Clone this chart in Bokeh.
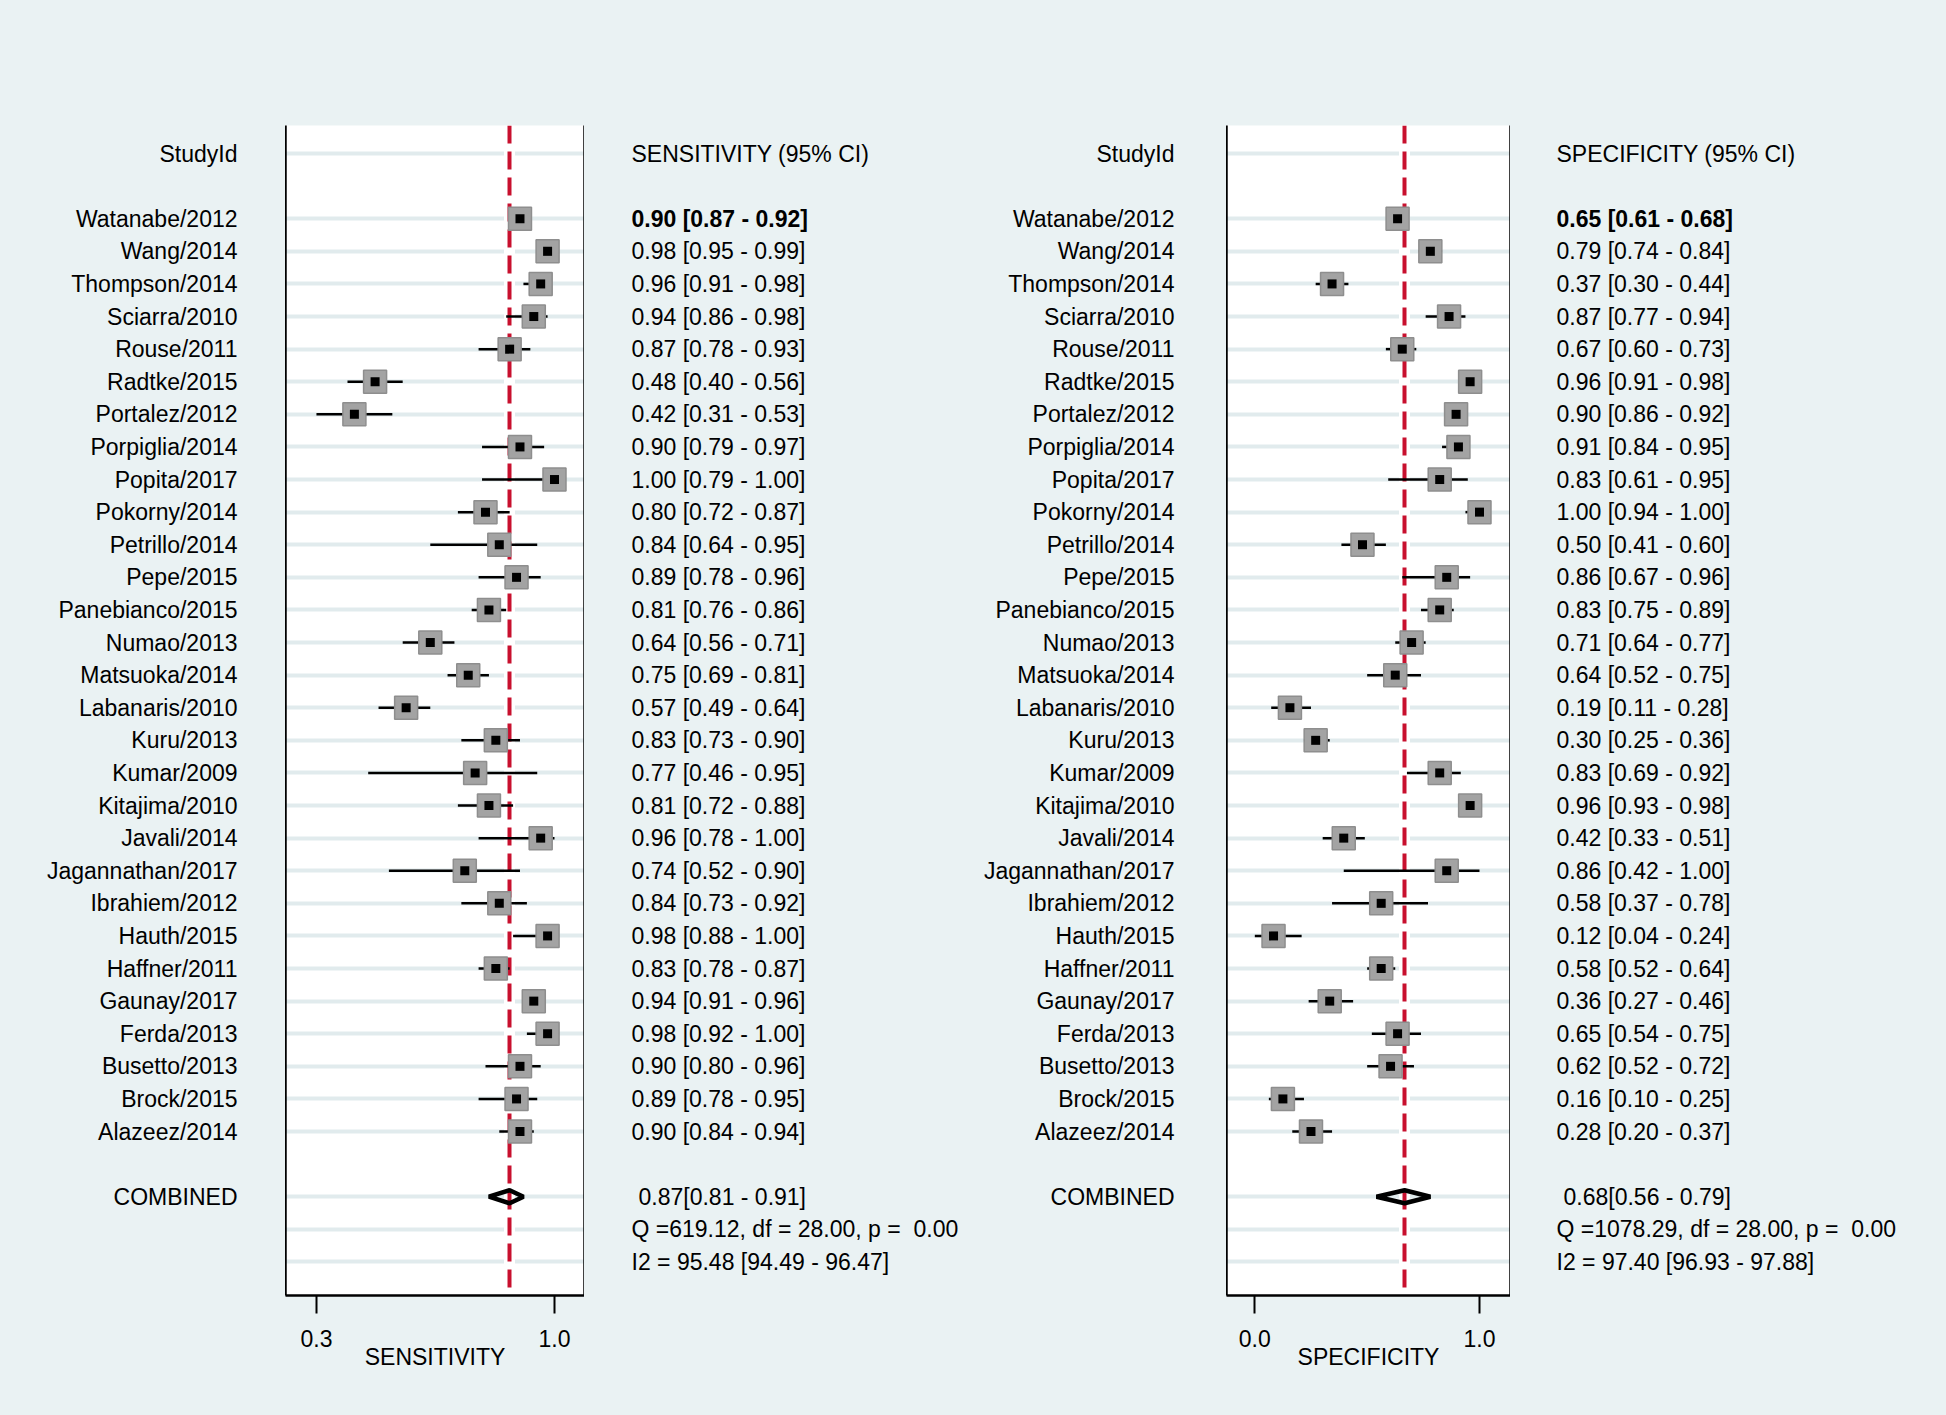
import numpy as np
from jinja2 import Template
from bokeh.plotting import figure
from bokeh.models import (Range1d, FixedTicker, PrintfTickFormatter, LinearAxis,
                          Grid, ColumnDataSource)
from bokeh.layouts import row
from bokeh.core.properties import value
from bokeh.embed import file_html
from bokeh.resources import INLINE

# ---------------- data ----------------
studies = ["Watanabe/2012", "Wang/2014", "Thompson/2014", "Sciarra/2010", "Rouse/2011",
           "Radtke/2015", "Portalez/2012", "Porpiglia/2014", "Popita/2017", "Pokorny/2014",
           "Petrillo/2014", "Pepe/2015", "Panebianco/2015", "Numao/2013", "Matsuoka/2014",
           "Labanaris/2010", "Kuru/2013", "Kumar/2009", "Kitajima/2010", "Javali/2014",
           "Jagannathan/2017", "Ibrahiem/2012", "Hauth/2015", "Haffner/2011", "Gaunay/2017",
           "Ferda/2013", "Busetto/2013", "Brock/2015", "Alazeez/2014"]

sens_est = [0.90, 0.98, 0.96, 0.94, 0.87, 0.48, 0.42, 0.90, 1.00, 0.80, 0.84, 0.89, 0.81, 0.64, 0.75,
            0.57, 0.83, 0.77, 0.81, 0.96, 0.74, 0.84, 0.98, 0.83, 0.94, 0.98, 0.90, 0.89, 0.90]
sens_lo = [0.87, 0.95, 0.91, 0.86, 0.78, 0.40, 0.31, 0.79, 0.79, 0.72, 0.64, 0.78, 0.76, 0.56, 0.69,
           0.49, 0.73, 0.46, 0.72, 0.78, 0.52, 0.73, 0.88, 0.78, 0.91, 0.92, 0.80, 0.78, 0.84]
sens_hi = [0.92, 0.99, 0.98, 0.98, 0.93, 0.56, 0.53, 0.97, 1.00, 0.87, 0.95, 0.96, 0.86, 0.71, 0.81,
           0.64, 0.90, 0.95, 0.88, 1.00, 0.90, 0.92, 1.00, 0.87, 0.96, 1.00, 0.96, 0.95, 0.94]

spec_est = [0.65, 0.79, 0.37, 0.87, 0.67, 0.96, 0.90, 0.91, 0.83, 1.00, 0.50, 0.86, 0.83, 0.71, 0.64,
            0.19, 0.30, 0.83, 0.96, 0.42, 0.86, 0.58, 0.12, 0.58, 0.36, 0.65, 0.62, 0.16, 0.28]
spec_lo = [0.61, 0.74, 0.30, 0.77, 0.60, 0.91, 0.86, 0.84, 0.61, 0.94, 0.41, 0.67, 0.75, 0.64, 0.52,
           0.11, 0.25, 0.69, 0.93, 0.33, 0.42, 0.37, 0.04, 0.52, 0.27, 0.54, 0.52, 0.10, 0.20]
spec_hi = [0.68, 0.84, 0.44, 0.94, 0.73, 0.98, 0.92, 0.95, 0.95, 1.00, 0.60, 0.96, 0.89, 0.77, 0.75,
           0.28, 0.36, 0.92, 0.98, 0.51, 1.00, 0.78, 0.24, 0.64, 0.46, 0.75, 0.72, 0.25, 0.37]

sens_pooled = [0.87, 0.81, 0.91]
spec_pooled = [0.68, 0.56, 0.79]
sens_stats = ["Q =619.12, df = 28.00, p = \u00a00.00", "I2 = 95.48 [94.49 - 96.47]"]
spec_stats = ["Q =1078.29, df = 28.00, p = \u00a00.00", "I2 = 97.40 [96.93 - 97.88]"]
sens_ticks = [0.31, 1.00]
spec_ticks = [0.04, 1.00]
header_left = "StudyId"
combined_label = "COMBINED"
sens_header = "SENSITIVITY (95% CI)"
spec_header = "SPECIFICITY (95% CI)"
sens_title = "SENSITIVITY"
spec_title = "SPECIFICITY"

# ---------------- layout constants ----------------
BG = "#EAF2F3"
GRID = "#E1EBED"
RED = "#C8102E"
FONT = "Liberation Sans"
FS = "23px"

n = len(studies)
study_rows = list(range(2, 2 + n))
comb_row = 2 + n + 1
stat_rows = [comb_row + 1, comb_row + 2]
grid_rows = [0] + study_rows + [comb_row] + stat_rows

FH = 1170
MT = 125
MB = 119
yr = Range1d(35.03, -0.86)


def base_fig(width, bg, xr):
    p = figure(frame_width=width, frame_height=FH, x_range=xr, y_range=yr,
               toolbar_location=None, output_backend="svg",
               min_border_left=0, min_border_right=0, min_border_top=MT, min_border_bottom=MB,
               background_fill_color=bg, border_fill_color=BG, outline_line_color=None,
               x_axis_location=None, y_axis_location=None)
    p.grid.visible = False
    return p


def add_text(p, x, y, texts, align="left", bold=False):
    src = ColumnDataSource(dict(y=list(y), t=list(texts)))
    p.text(x=x, y="y", text="t", source=src, text_align=align, text_baseline="middle",
           text_font=value(FONT), text_font_size=FS, text_color="black",
           text_font_style="bold" if bold else "normal")


def ci_strings(est, lo, hi):
    return ["%.2f [%.2f - %.2f]" % (e, l, h) for e, l, h in zip(est, lo, hi)]


def plot_fig(width, xr, ticks, pooled, est, lo, hi, title):
    p = figure(frame_width=width, frame_height=FH, x_range=Range1d(*xr), y_range=yr,
               toolbar_location=None, output_backend="svg",
               min_border_left=0, min_border_right=0, min_border_top=MT, min_border_bottom=MB,
               background_fill_color="white", border_fill_color=BG, outline_line_color=None,
               x_axis_location="below", y_axis_location=None)
    p.grid.visible = False
    p.add_layout(Grid(dimension=1, ticker=FixedTicker(ticks=grid_rows),
                      grid_line_color=GRID, grid_line_width=4))
    # pooled estimate reference line
    p.vspan(x=[pooled[0]], line_color="white", line_width=11)
    p.vspan(x=[pooled[0]], line_color=RED, line_width=4, line_dash="18 8")
    src = ColumnDataSource(dict(row=study_rows, est=est, lo=lo, hi=hi))
    p.segment(x0="lo", y0="row", x1="hi", y1="row", source=src, line_color="black", line_width=2.5)
    p.scatter("est", "row", source=src, marker="square", size=23,
              fill_color="#A3A3A3", line_color="#8E8E8E", line_width=1.5)
    p.scatter("est", "row", source=src, marker="square", size=9,
              fill_color="black", line_color=None)
    # combined diamond
    e, l, h = pooled
    p.patch(x=[l, e, h, e], y=[comb_row, comb_row - 0.2, comb_row, comb_row + 0.2],
            fill_color="white", fill_alpha=0.0, line_color="black", line_width=4.5)
    ax = p.xaxis[0]
    ax.ticker = FixedTicker(ticks=ticks)
    ax.formatter = PrintfTickFormatter(format="%.1f")
    ax.axis_label = title
    ax.axis_label_text_font = FONT
    ax.axis_label_text_font_size = "23px"
    ax.axis_label_text_font_style = "normal"
    ax.axis_label_text_color = "black"
    ax.axis_label_standoff = -6
    ax.major_label_text_font = FONT
    ax.major_label_text_font_size = FS
    ax.major_label_text_color = "black"
    ax.major_label_standoff = 16
    ax.major_tick_out = 18
    ax.major_tick_in = 0
    ax.major_tick_line_width = 2
    ax.major_tick_line_color = "black"
    ax.minor_tick_out = 0
    ax.minor_tick_in = 0
    ax.axis_line_width = 2.5
    ax.axis_line_color = "black"
    for loc in ("left", "right"):
        a = LinearAxis(ticker=FixedTicker(ticks=[]), major_tick_out=0, major_tick_in=0,
                       minor_tick_out=0, minor_tick_in=0, major_label_text_font_size="0px",
                       major_label_standoff=0, axis_line_width=2.5, axis_line_color="black")
        p.add_layout(a, loc)
    return p


# left names column
fa = base_fig(285, BG, Range1d(0, 285))
add_text(fa, 237, [0], [header_left], align="right")
add_text(fa, 237, study_rows, studies, align="right")
add_text(fa, 237, [comb_row], [combined_label], align="right")

# left plot
fb = plot_fig(299, (0.2203, 1.087), sens_ticks, sens_pooled, sens_est, sens_lo, sens_hi, sens_title)

# middle: sensitivity CI text + right names
fc = base_fig(642, BG, Range1d(0, 642))
add_text(fc, 47, [0], [sens_header])
sens_ci = ci_strings(sens_est, sens_lo, sens_hi)
add_text(fc, 47, study_rows[:1], sens_ci[:1], bold=True)
add_text(fc, 47, study_rows[1:], sens_ci[1:])
add_text(fc, 54, [comb_row], ["%.2f[%.2f - %.2f]" % tuple(sens_pooled)])
add_text(fc, 47, stat_rows, sens_stats)
add_text(fc, 590, [0], [header_left], align="right")
add_text(fc, 590, study_rows, studies, align="right")
add_text(fc, 590, [comb_row], [combined_label], align="right")

# right plot
fe = plot_fig(284, (-0.081, 1.1325), spec_ticks, spec_pooled, spec_est, spec_lo, spec_hi, spec_title)

# right CI text
ff = base_fig(436, BG, Range1d(0, 436))
add_text(ff, 46, [0], [spec_header])
spec_ci = ci_strings(spec_est, spec_lo, spec_hi)
add_text(ff, 46, study_rows[:1], spec_ci[:1], bold=True)
add_text(ff, 46, study_rows[1:], spec_ci[1:])
add_text(ff, 53, [comb_row], ["%.2f[%.2f - %.2f]" % tuple(spec_pooled)])
add_text(ff, 46, stat_rows, spec_stats)

layout = row(fa, fb, fc, fe, ff, spacing=0)

TEMPLATE = Template("""{% extends base %}
{% block preamble %}
<style>html, body { background-color: #EAF2F3; }</style>
{% endblock %}
""")

html = file_html(layout, INLINE, title="Forest plot", template=TEMPLATE)
open("out.html", "w").write(html)
